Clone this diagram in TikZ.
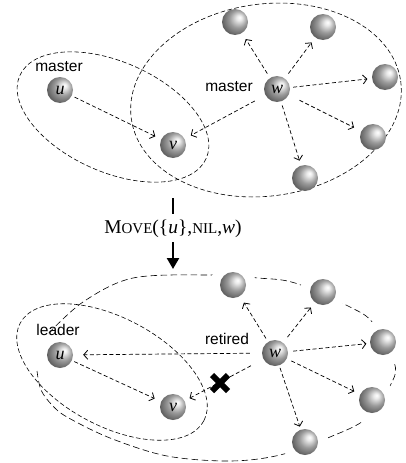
\documentclass[tikz,border=0pt]{standalone}
\usepackage{fontspec}
\setmainfont{Liberation Serif}
\newfontfamily\lsans{Liberation Sans}
\usetikzlibrary{arrows.meta}
\pgfdeclareradialshading{myball}{\pgfpoint{9bp}{9bp}}{color(0bp)=(white); color(5bp)=(black!8); color(17bp)=(black!40); color(30bp)=(black!64); color(40bp)=(black!80); color(50bp)=(black!82)}
\begin{document}
\begin{tikzpicture}[x=1pt,y=-1pt,
 ball/.style={circle, minimum size=26pt, inner sep=0pt, shading=myball, font=\fontsize{18}{18}\selectfont\itshape},
 lab/.style={font=\lsans\fontsize{15.5}{15.5}\selectfont, inner sep=0pt},
 darr/.style={draw, dash pattern=on 4pt off 2.5pt, line width=0.7pt, -{Straight Barb[length=4pt,width=9pt,line width=0.8pt]}},
 ell/.style={draw, dash pattern=on 4.5pt off 2.5pt, line width=0.6pt},
 loopd/.style={draw, dash pattern=on 6.5pt off 3.5pt, line width=0.6pt},
 halo/.style={circle, fill=white, draw=none, minimum size=46pt, inner sep=0pt},
 bigarr/.style={line width=2.4pt}
]
\useasboundingbox (0,0) rectangle (406,463);

% ---------- top part ----------
\draw[ell, rotate around={8:(266,100)}] (266,100) ellipse [x radius=136, y radius=96];
\draw[ell, rotate around={-24:(113,117)}] (113,117) ellipse [x radius=102, y radius=55];

\node[ball] (u) at (60,90) {u};
\node[ball] (v) at (173,145) {v};
\node[ball] (w) at (277,89) {w};
\node[ball] (b1) at (235,22) {};
\node[ball] (b2) at (323,27) {};
\node[ball] (b3) at (385,77) {};
\node[ball] (b4) at (373,137) {};
\node[ball] (b5) at (305,178) {};

\node[lab] (lm1) at (59,67) {master};
\node[lab] (lm2) at (229,87) {master};

\draw[darr, shorten <=3pt, shorten >=6.5pt] (u) -- (v);
\draw[darr, shorten <=12pt, shorten >=7pt] (w) -- (v);
\draw[darr, shorten <=5pt, shorten >=7pt] (w) -- (b1);
\draw[darr, shorten <=6pt, shorten >=6pt] (w) -- (b2);
\draw[darr, shorten <=3pt, shorten >=4.5pt] (w) -- (b3);
\draw[darr, shorten <=12pt, shorten >=8pt] (w) -- (b4);
\draw[darr, shorten <=4pt, shorten >=5pt] (w) -- (b5);

% ---------- middle ----------
\coordinate (a1) at (173,198);
\coordinate (a1e) at (173,214);
\coordinate (a2s) at (173,242);
\coordinate (a2) at (173,269);
\node[inner sep=0pt, font=\fontsize{19.5}{19.5}\selectfont] (mv) at (173,229)
 {M{\fontsize{15}{15}\selectfont OVE}(\{\textit{u}\},{\fontsize{15}{15}\selectfont NIL},\textit{w})};
\draw[bigarr] (a1) -- (a1e);
\draw[bigarr, -{Triangle[length=11pt,width=12pt]}] (a2s) -- (a2);

% ---------- bottom part ----------
\draw[ell, rotate around={-28:(112,372)}] (112,372) ellipse [x radius=104, y radius=54];
\draw[loopd] plot[smooth, tension=0.55] coordinates {(37,371) (41,390) (52,405) (67,417) (110,438) (167,456) (230,461) (280,455) (330,437) (367,418) (392,382) (394,362) (373,323) (350,307) (295,283) (258,278) (210,275) (133,278) (83,302) (47,335)};

\node[halo] at (233,285) {};
\node[halo] at (323,292) {};
\node[halo] at (383,342) {};
\node[halo] at (372,400) {};
\node[halo] at (305,442) {};

\node[ball] (u2) at (60,355) {u};
\node[ball] (v2) at (173,407) {v};
\node[ball] (w2) at (275,353) {w};
\node[ball] (c1) at (233,285) {};
\node[ball] (c2) at (323,292) {};
\node[ball] (c3) at (383,342) {};
\node[ball] (c4) at (372,400) {};
\node[ball] (c5) at (305,442) {};

\node[lab] (ll) at (58,330) {leader};
\node[lab] (lr) at (227,339) {retired};

\draw[darr, shorten <=2.5pt, shorten >=7pt] (u2) -- (v2);
\draw[darr, shorten <=12pt, shorten >=10pt] (w2) -- (u2);
\draw[darr, shorten <=14pt, shorten >=5.5pt] (w2) -- (v2);
\draw[darr, shorten <=4pt, shorten >=7.5pt] (w2) -- (c1);
\draw[darr, shorten <=7pt, shorten >=6.5pt] (w2) -- (c2);
\draw[darr, shorten <=5pt, shorten >=3.5pt] (w2) -- (c3);
\draw[darr, shorten <=5pt, shorten >=6.5pt] (w2) -- (c4);
\draw[darr, shorten <=2.5pt, shorten >=3pt] (w2) -- (c5);

\coordinate (xm) at (220,383);
\draw[line width=6pt] (xm) +(-8,-8) -- +(8,8) (xm) +(-8,8) -- +(8,-8);
\end{tikzpicture}
\end{document}
